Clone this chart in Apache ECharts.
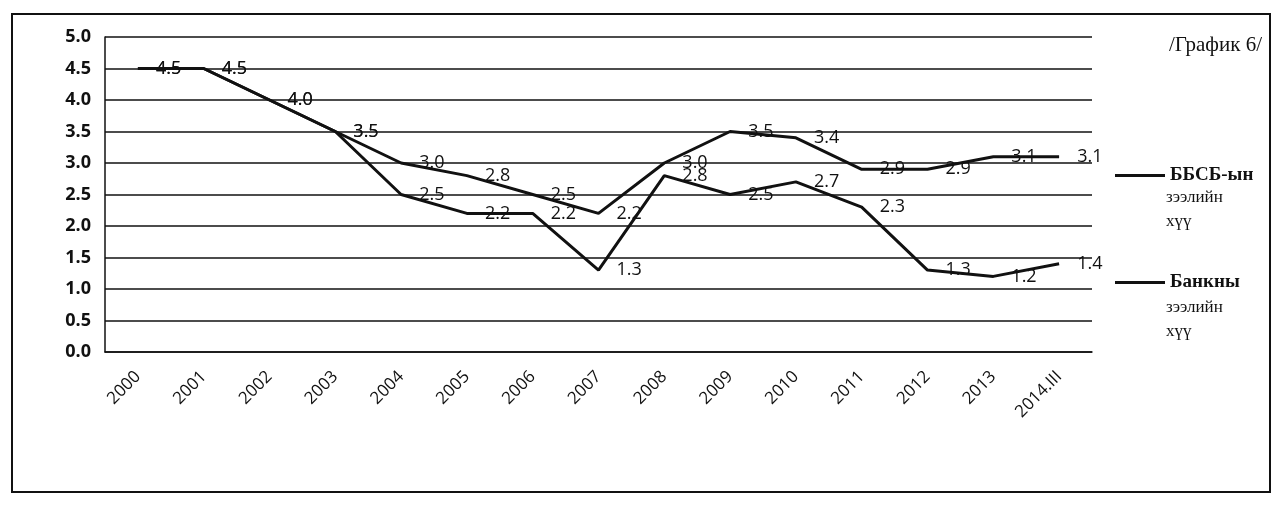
<!DOCTYPE html>
<html><head><meta charset="utf-8">
<script src="https://cdn.jsdelivr.net/npm/echarts@6/dist/echarts.min.js"></script>
<style>html,body{margin:0;padding:0;background:#fff}#c{width:1281px;height:526px}</style>
</head><body><div id="c"></div>
<script>
const categories = ['2000','2001','2002','2003','2004','2005','2006','2007','2008','2009','2010','2011','2012','2013','2014.III'];
const nbfiRate = [4.5,4.5,4.0,3.5,3.0,2.8,2.5,2.2,3.0,3.5,3.4,2.9,2.9,3.1,3.1];
const bankRate = [4.5,4.5,4.0,3.5,2.5,2.2,2.2,1.3,2.8,2.5,2.7,2.3,1.3,1.2,1.4];
const seriesNames = ['ББСБ-ын зээлийн хүү','Банкны зээлийн хүү'];
const legendFirst = {'ББСБ-ын зээлийн хүү': 'ББСБ-ын', 'Банкны зээлийн хүү': 'Банкны'};
const legendRest = ['зээлийн\nхүү', 'зээлийн\nхүү'];
const chart = echarts.init(document.getElementById('c'));
const sans = 'Open Sans';
const serif = 'Liberation Serif';
function mkSeries(name, data){
  return {
    name: name, type: 'line', data: data, symbol: 'circle', symbolSize: 0.1, showSymbol: true,
    lineStyle: {color: '#111', width: 3},
    itemStyle: {color: '#111'},
    labelLayout: {hideOverlap: false},
    label: {show: true, position: 'right', distance: 18, color: '#111', fontFamily: sans, fontSize: 18,
      formatter: p => Number(p.value).toFixed(1)}
  };
}
chart.setOption({
  animation: false,
  backgroundColor: '#fff',
  title: {text: '/График 6/', right: 14, top: 30,
    textStyle: {fontFamily: serif, fontSize: 21, fontWeight: 'normal', color: '#111'}},
  graphic: [
    {type: 'rect', shape: {x: 12, y: 14, width: 1258, height: 478},
      style: {fill: 'none', stroke: '#111', lineWidth: 2}, silent: true},
    {type: 'text', left: 1166, top: 186, style: {text: legendRest[0], font: '17px "Liberation Serif"', lineHeight: 24, fill: '#111'}},
    {type: 'text', left: 1166, top: 296, style: {text: legendRest[1], font: '17px "Liberation Serif"', lineHeight: 24, fill: '#111'}}
  ],
  legend: {
    orient: 'vertical', left: 1110, top: 161, itemGap: 88,
    itemWidth: 50, itemHeight: 20,
    data: seriesNames.map(n => ({name: n, icon: 'path://M0,9 L50,9 L50,12 L0,12 Z'})),
    formatter: n => legendFirst[n],
    textStyle: {color: '#111', fontFamily: serif, fontSize: 19, fontWeight: 'bold'}
  },
  grid: {left: 105, right: 189, top: 37, bottom: 174, containLabel: false},
  xAxis: {
    type: 'category', data: categories, boundaryGap: true,
    axisLine: {show: true, lineStyle: {color: '#111', width: 1.5}},
    axisTick: {show: false},
    axisLabel: {rotate: 45, color: '#111', fontFamily: sans, fontSize: 17, margin: 22, interval: 0}
  },
  yAxis: {
    type: 'value', min: 0, max: 5, interval: 0.5,
    axisLine: {show: true, lineStyle: {color: '#111', width: 1.5}},
    axisTick: {show: false},
    axisLabel: {color: '#111', fontFamily: sans, fontSize: 18, fontWeight: 'bold', margin: 14,
      formatter: v => v.toFixed(1)},
    splitLine: {show: true, lineStyle: {color: '#111', width: 1.5}}
  },
  series: [mkSeries(seriesNames[0], nbfiRate), mkSeries(seriesNames[1], bankRate)]
});
</script></body></html>
